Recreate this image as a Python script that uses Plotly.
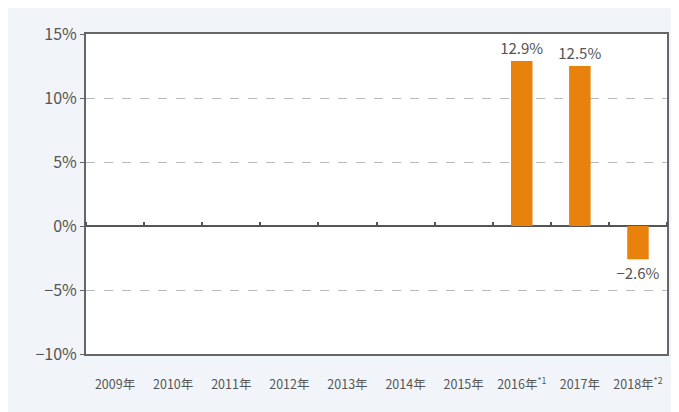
import plotly.graph_objects as go

categories = ["2009年", "2010年", "2011年", "2012年", "2013年", "2014年", "2015年",
              "2016年<sup>*1</sup>", "2017年", "2018年<sup>*2</sup>"]
values = [None, None, None, None, None, None, None, 12.9, 12.5, -2.6]
labels = ["" if v is None else f"{v:.1f}%".replace("-", "−") for v in values]
y_ticks = [15, 10, 5, 0, -5, -10]
y_tick_labels = ["15%", "10%", "5%", "0%", "−5%", "−10%"]

font_family = "Noto Sans CJK JP, Noto Sans, sans-serif"

fig = go.Figure()
fig.add_trace(go.Bar(
    x=categories, y=values, text=labels, textposition="outside",
    constraintext="none",
    textfont=dict(size=15, color="#555555", family=font_family),
    marker=dict(color="#e8820c", line=dict(width=0)),
    width=0.37, cliponaxis=False, hoverinfo="skip",
))
# invisible trace for the zero-line tick axis
fig.add_trace(go.Scatter(x=categories, y=[0]*len(categories), xaxis="x2",
                         mode="markers", marker=dict(opacity=0), hoverinfo="skip",
                         showlegend=False))

fig.update_layout(
    width=671, height=404,
    margin=dict(l=78, r=10, t=26, b=58),
    paper_bgcolor="#f1f5f9",
    plot_bgcolor="#ffffff",
    showlegend=False,
    font=dict(family=font_family, color="#555555"),
    xaxis=dict(
        type="category", showgrid=False, showline=True, linecolor="#666666", linewidth=2,
        mirror=True, ticks="", tickfont=dict(size=12.5, color="#555555"),
        ticklabelstandoff=18,
        range=[-0.5, 9.5], fixedrange=True,
    ),
    xaxis2=dict(
        type="category", overlaying="x", anchor="free", side="top",
        position=0.4, range=[-0.5, 9.5], showgrid=False, showline=False,
        ticks="outside", tickson="boundaries", ticklen=4, tickwidth=2,
        tickcolor="#555555", showticklabels=False,
    ),
    yaxis=dict(
        range=[-10, 15], tickvals=y_ticks, ticktext=y_tick_labels,
        showgrid=True, gridcolor="#bbbbbb", griddash="dash", gridwidth=1,
        showline=True, linecolor="#666666", linewidth=2, mirror=True,
        zeroline=True, zerolinecolor="#555555", zerolinewidth=1.5,
        ticks="outside", ticklen=4, tickcolor="#666666",
        tickfont=dict(size=16, color="#555555"), fixedrange=True,
    ),
    bargap=0.63,
)

fig.write_html("out.html")
